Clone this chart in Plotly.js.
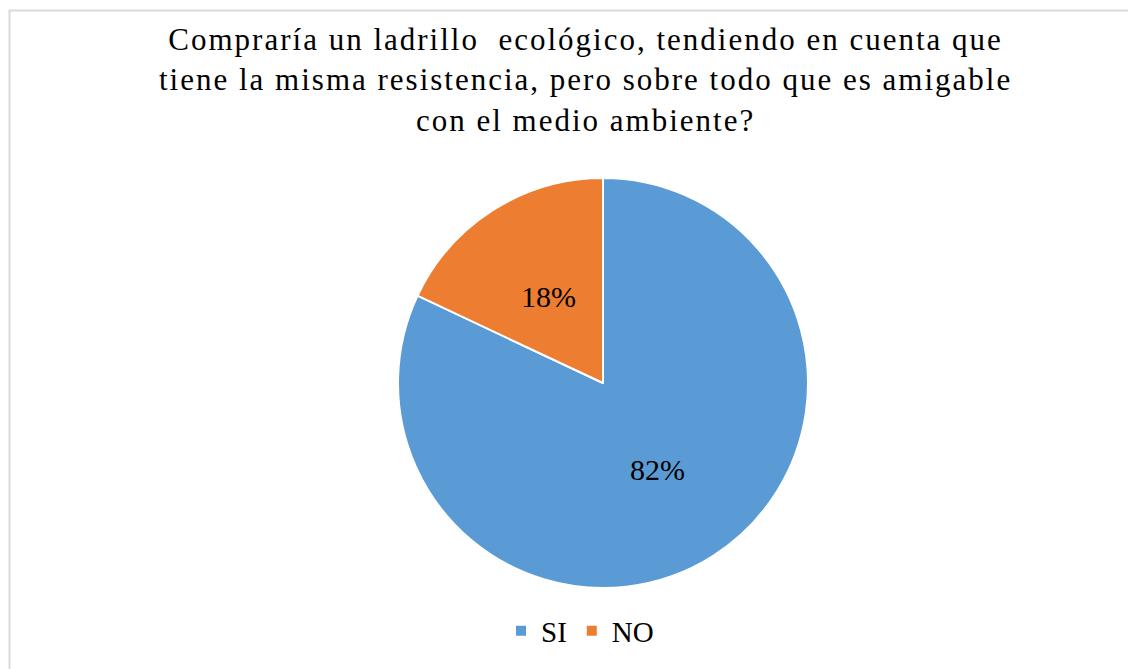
<!DOCTYPE html>
<html>
<head>
<meta charset="utf-8">
<script src="https://cdn.plot.ly/plotly-3.0.1.min.js"></script>
<style>
html,body{margin:0;padding:0;background:#fff;}
#chart{width:1128px;height:669px;}
#chart .annotation.title-ann .annotation-text{letter-spacing:2.0px;}
</style>
</head>
<body>
<div id="chart"></div>
<script>
const categories = ["SI", "NO"];
const values = [82, 18];
const colors = ["#5B9BD5", "#ED7D31"];
const titleLines = [
  "Compraría un ladrillo  ecológico, tendiendo en cuenta que",
  "tiene la misma resistencia, pero sobre todo que es amigable",
  "con el medio ambiente?"
];

const font = "'Liberation Serif', 'Times New Roman', serif";
const W = 1128, H = 669;
const cx = 603, cy = 383, R = 205;
const domX = [(cx - R) / W, (cx + R) / W];
const domY = [1 - (cy + R) / H, 1 - (cy - R) / H];

const trace = {
  type: "pie",
  labels: categories,
  values: values,
  sort: false,
  direction: "clockwise",
  rotation: 0,
  marker: {colors: colors, line: {color: "#ffffff", width: 2}},
  textinfo: "none",
  textposition: "none",
  domain: {x: domX, y: domY},
  hoverinfo: "label+percent"
};

// percentage labels placed at half radius along each slice bisector, derived from the values
const total = values.reduce((a, b) => a + b, 0);
let acc = 0;
const labelAnns = values.map((v, i) => {
  const mid = (acc + v / 2) / total * 2 * Math.PI; // clockwise from 12 o'clock
  acc += v;
  const px = cx + 0.5 * R * Math.sin(mid);
  const py = cy - 0.5 * R * Math.cos(mid);
  return {
    text: Math.round(v / total * 100) + "%",
    xref: "paper", yref: "paper",
    x: px / W, y: 1 - py / H,
    xanchor: "center", yanchor: "middle",
    showarrow: false,
    font: {family: font, size: 30, color: "#000000"}
  };
});

const layout = {
  width: W, height: H,
  margin: {l: 0, r: 0, t: 0, b: 0},
  paper_bgcolor: "#ffffff",
  showlegend: true,
  legend: {
    orientation: "h",
    x: 580/W, xanchor: "center",
    y: 1-631/H, yanchor: "middle",
    font: {family: font, size: 29, color: "#000000"},
    itemwidth: 30
  },
  annotations: [{
    text: titleLines.join("<br>"),
    xref: "paper", yref: "paper",
    x: 586/W, y: 1-20/H,
    xanchor: "center", yanchor: "top",
    showarrow: false,
    align: "center",
    font: {family: font, size: 31, color: "#000000"}
  }].concat(labelAnns),
  shapes: [{
    type: "rect", xref: "paper", yref: "paper",
    x0: 9.5/W, x1: 1.05, y0: -0.05, y1: 1-10.5/H,
    line: {color: "#D9D9D9", width: 2},
    fillcolor: "rgba(0,0,0,0)"
  }]
};

Plotly.newPlot("chart", [trace], layout, {displayModeBar: false, staticPlot: true}).then(gd => {
  const first = gd.querySelector(".annotation");
  if (first) first.classList.add("title-ann");
});
</script>
</body>
</html>
